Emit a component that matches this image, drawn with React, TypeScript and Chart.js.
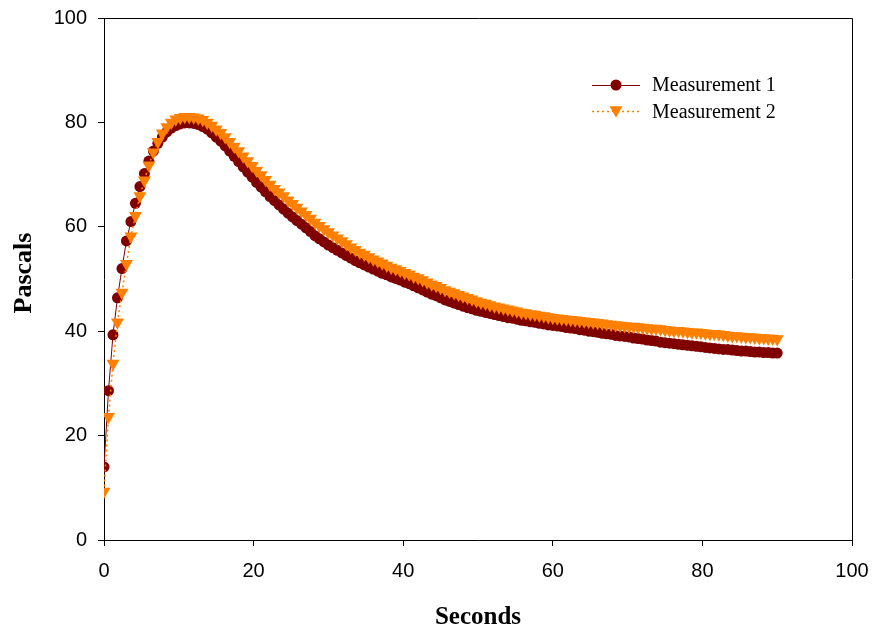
import React, { useEffect, useRef } from "react";
import { Chart, registerables } from "chart.js";

Chart.register(...registerables);

const seconds = [
  0, 0.6, 1.2, 1.8, 2.4, 3, 3.6, 4.2, 4.8, 5.4,
  6, 6.6, 7.2, 7.8, 8.4, 9, 9.6, 10.2, 10.8, 11.4,
  12, 12.6, 13.2, 13.8, 14.4, 15, 15.6, 16.2, 16.8, 17.4,
  18, 18.6, 19.2, 19.8, 20.4, 21, 21.6, 22.2, 22.8, 23.4,
  24, 24.6, 25.2, 25.8, 26.4, 27, 27.6, 28.2, 28.8, 29.4,
  30, 30.6, 31.2, 31.8, 32.4, 33, 33.6, 34.2, 34.8, 35.4,
  36, 36.6, 37.2, 37.8, 38.4, 39, 39.6, 40.2, 40.8, 41.4,
  42, 42.6, 43.2, 43.8, 44.4, 45, 45.6, 46.2, 46.8, 47.4,
  48, 48.6, 49.2, 49.8, 50.4, 51, 51.6, 52.2, 52.8, 53.4,
  54, 54.6, 55.2, 55.8, 56.4, 57, 57.6, 58.2, 58.8, 59.4,
  60, 60.6, 61.2, 61.8, 62.4, 63, 63.6, 64.2, 64.8, 65.4,
  66, 66.6, 67.2, 67.8, 68.4, 69, 69.6, 70.2, 70.8, 71.4,
  72, 72.6, 73.2, 73.8, 74.4, 75, 75.6, 76.2, 76.8, 77.4,
  78, 78.6, 79.2, 79.8, 80.4, 81, 81.6, 82.2, 82.8, 83.4,
  84, 84.6, 85.2, 85.8, 86.4, 87, 87.6, 88.2, 88.8, 89.4,
  90,
];

const measurement1 = [
  14.0, 28.6, 39.3, 46.4, 52.0, 57.3, 61.0, 64.5, 67.7, 70.2,
  72.6, 74.5, 76.0, 77.2, 78.2, 78.9, 79.4, 79.7, 79.9, 79.9,
  79.8, 79.6, 79.2, 78.7, 78.0, 77.2, 76.4, 75.5, 74.5, 73.5,
  72.5, 71.5, 70.5, 69.5, 68.5, 67.6, 66.7, 65.8, 65.0, 64.2,
  63.4, 62.6, 61.9, 61.2, 60.5, 59.8, 59.1, 58.3, 57.7, 57.1,
  56.5, 56.0, 55.5, 55.0, 54.5, 54.0, 53.5, 53.1, 52.7, 52.3,
  51.9, 51.5, 51.1, 50.8, 50.4, 50.1, 49.8, 49.4, 49.1, 48.7,
  48.3, 47.9, 47.5, 47.1, 46.8, 46.4, 46.0, 45.7, 45.4, 45.1,
  44.8, 44.5, 44.3, 44.0, 43.8, 43.6, 43.4, 43.2, 43.0, 42.8,
  42.6, 42.5, 42.3, 42.1, 42.0, 41.8, 41.7, 41.5, 41.4, 41.2,
  41.1, 41.0, 40.9, 40.7, 40.6, 40.5, 40.3, 40.2, 40.0, 39.9,
  39.8, 39.6, 39.5, 39.4, 39.2, 39.1, 39.0, 38.9, 38.7, 38.6,
  38.5, 38.3, 38.2, 38.1, 37.9, 37.8, 37.7, 37.6, 37.5, 37.4,
  37.3, 37.2, 37.1, 37.0, 36.9, 36.8, 36.7, 36.6, 36.5, 36.5,
  36.4, 36.3, 36.2, 36.2, 36.1, 36.0, 36.0, 35.9, 35.9, 35.8,
  35.8,
];

const measurement2 = [
  9.3, 23.6, 33.8, 41.7, 47.4, 52.9, 58.2, 62.1, 65.9, 68.9,
  71.8, 74.3, 76.3, 77.9, 79.1, 80.0, 80.6, 80.9, 81.1, 81.1,
  81.0, 80.8, 80.5, 80.0, 79.4, 78.7, 78.0, 77.2, 76.3, 75.4,
  74.5, 73.5, 72.6, 71.7, 70.8, 69.9, 69.0, 68.1, 67.3, 66.6,
  65.9, 65.1, 64.4, 63.7, 63.0, 62.3, 61.6, 60.8, 60.2, 59.6,
  59.0, 58.4, 57.8, 57.3, 56.7, 56.1, 55.6, 55.1, 54.7, 54.2,
  53.8, 53.4, 53.0, 52.6, 52.2, 51.9, 51.6, 51.2, 50.9, 50.5,
  50.2, 49.8, 49.4, 49.0, 48.7, 48.3, 47.9, 47.6, 47.3, 47.0,
  46.7, 46.4, 46.1, 45.8, 45.5, 45.3, 45.0, 44.8, 44.6, 44.4,
  44.2, 44.0, 43.8, 43.6, 43.5, 43.3, 43.2, 43.0, 42.9, 42.7,
  42.6, 42.5, 42.4, 42.3, 42.2, 42.1, 42.0, 41.9, 41.8, 41.7,
  41.6, 41.5, 41.4, 41.3, 41.2, 41.1, 41.0, 40.9, 40.9, 40.8,
  40.7, 40.6, 40.5, 40.5, 40.4, 40.3, 40.2, 40.1, 40.1, 40.0,
  39.9, 39.8, 39.8, 39.7, 39.6, 39.5, 39.5, 39.4, 39.3, 39.2,
  39.1, 39.1, 39.0, 38.9, 38.9, 38.8, 38.7, 38.7, 38.6, 38.6,
  38.5,
];

const seriesNames = ["Measurement 1", "Measurement 2"];
const xTitle = "Seconds";
const yTitle = "Pascals";

const MAROON = "#800000";
const ORANGE = "#FF8000";

function drawTriangleDown(ctx: CanvasRenderingContext2D, x: number, y: number, r: number) {
  ctx.beginPath();
  ctx.moveTo(x, y + r);
  ctx.lineTo(x - (r * Math.sqrt(3)) / 2, y - r / 2);
  ctx.lineTo(x + (r * Math.sqrt(3)) / 2, y - r / 2);
  ctx.closePath();
  ctx.fill();
}

const decorPlugin = {
  id: "decor",
  afterDraw(chart: any) {
    const ctx: CanvasRenderingContext2D = chart.ctx;
    const a = chart.chartArea;
    ctx.save();
    ctx.strokeStyle = "#000";
    ctx.lineWidth = 1;
    ctx.beginPath();
    ctx.moveTo(Math.round(a.left) + 0.5, Math.round(a.top) + 0.5);
    ctx.lineTo(Math.round(a.right) + 0.5, Math.round(a.top) + 0.5);
    ctx.lineTo(Math.round(a.right) + 0.5, Math.round(a.bottom) + 0.5);
    ctx.stroke();

    ctx.fillStyle = "#000";
    ctx.font = "bold 25px 'Liberation Serif', 'Times New Roman', serif";
    ctx.textAlign = "center";
    ctx.textBaseline = "alphabetic";
    ctx.fillText(xTitle, (a.left + a.right) / 2, 624);
    ctx.save();
    ctx.translate(31, 273);
    ctx.rotate(-Math.PI / 2);
    ctx.font = "bold 26px 'Liberation Serif', 'Times New Roman', serif";
    ctx.fillText(yTitle, 0, 0);
    ctx.restore();

    const lx0 = 592, lx1 = 640, mx = 616, tx = 652;
    const y1 = 85, y2 = 111.5;
    ctx.strokeStyle = MAROON;
    ctx.lineWidth = 1;
    ctx.beginPath();
    ctx.moveTo(lx0, y1 + 0.5);
    ctx.lineTo(lx1, y1 + 0.5);
    ctx.stroke();
    ctx.fillStyle = MAROON;
    ctx.beginPath();
    ctx.arc(mx, y1, 5.5, 0, Math.PI * 2);
    ctx.fill();

    ctx.strokeStyle = ORANGE;
    ctx.lineWidth = 1.5;
    ctx.setLineDash([2, 3]);
    ctx.beginPath();
    ctx.moveTo(lx0, y2);
    ctx.lineTo(lx1, y2);
    ctx.stroke();
    ctx.setLineDash([]);
    ctx.fillStyle = ORANGE;
    drawTriangleDown(ctx, mx, y2 - 1.5, 7.5);

    ctx.fillStyle = "#000";
    ctx.font = "20px 'Liberation Serif', 'Times New Roman', serif";
    ctx.textAlign = "left";
    ctx.textBaseline = "middle";
    ctx.fillText(seriesNames[0], tx, y1 + 1);
    ctx.fillText(seriesNames[1], tx, y2 + 1);
    ctx.restore();
  },
};

export default function App() {
  const canvasRef = useRef<HTMLCanvasElement | null>(null);

  useEffect(() => {
    const canvas = canvasRef.current;
    if (!canvas) return;
    const tickFont = { family: "'Liberation Sans', Arial, sans-serif", size: 20 };
    const chart = new Chart(canvas, {
      type: "line",
      data: {
        datasets: [
          {
            label: seriesNames[0],
            data: seconds.map((s, i) => ({ x: s, y: measurement1[i] })),
            borderColor: MAROON,
            backgroundColor: MAROON,
            borderWidth: 1,
            pointStyle: "circle",
            pointRadius: 5.5,
            pointBorderWidth: 0,
            pointBackgroundColor: MAROON,
            tension: 0,
            order: 1,
          },
          {
            label: seriesNames[1],
            data: seconds.map((s, i) => ({ x: s, y: measurement2[i] })),
            borderColor: ORANGE,
            backgroundColor: ORANGE,
            borderWidth: 1.5,
            borderDash: [2, 3],
            pointStyle: "triangle",
            rotation: 180,
            pointRadius: 7.5,
            pointBorderWidth: 0,
            pointBackgroundColor: ORANGE,
            tension: 0,
            order: 0,
          },
        ],
      },
      options: {
        animation: false,
        responsive: false,
        maintainAspectRatio: false,
        layout: { padding: { top: 18, right: 20, bottom: 0, left: 0 } },
        plugins: {
          legend: { display: false },
          tooltip: { enabled: false },
          title: { display: false },
        },
        scales: {
          x: {
            type: "linear",
            min: 0,
            max: 100,
            ticks: { stepSize: 20, color: "#000", font: tickFont, padding: 13, maxRotation: 0 },
            grid: { display: true, drawOnChartArea: false, drawTicks: true, tickLength: 6, color: "#000" },
            border: { display: true, color: "#000", width: 1 },
            afterFit: (scale: any) => {
              scale.height = 88;
              scale.paddingLeft = 0;
              scale.paddingRight = 0;
              scale.paddingTop = 0;
              scale.paddingBottom = 0;
            },
          },
          y: {
            type: "linear",
            min: 0,
            max: 100,
            ticks: { stepSize: 20, color: "#000", font: tickFont, padding: 11 },
            grid: { display: true, drawOnChartArea: false, drawTicks: true, tickLength: 6, color: "#000" },
            border: { display: true, color: "#000", width: 1 },
            afterFit: (scale: any) => {
              scale.width = 104;
              scale.paddingLeft = 0;
              scale.paddingRight = 0;
              scale.paddingTop = 0;
              scale.paddingBottom = 0;
            },
          },
        },
      },
      plugins: [decorPlugin],
    });
    return () => chart.destroy();
  }, []);

  return (
    <div style={{ position: "fixed", left: 0, top: 0, width: 872, height: 628, background: "#fff" }}>
      <canvas ref={canvasRef} width={872} height={628} style={{ width: 872, height: 628, display: "block" }} />
    </div>
  );
}
